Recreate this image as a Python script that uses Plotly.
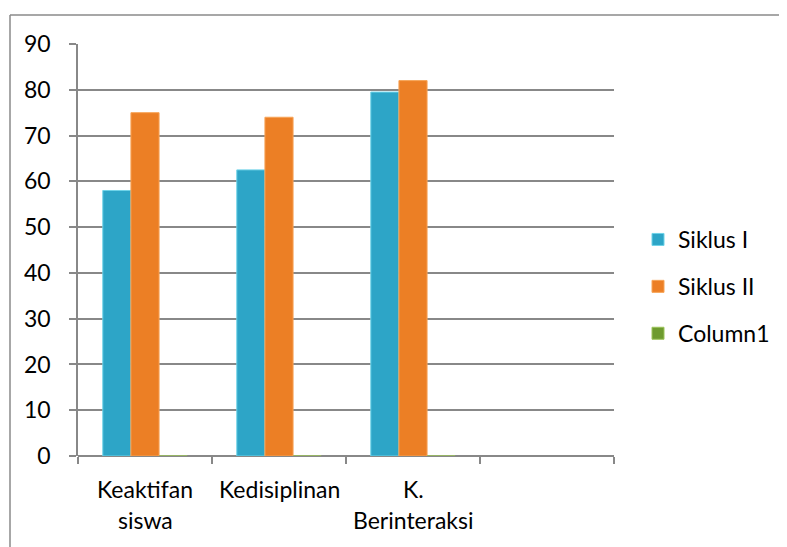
import plotly.graph_objects as go

categories = ["Keaktifan siswa", "Kedisiplinan", "K. Berinteraksi", ""]
label_lines = [["Keaktifan", "siswa"], ["Kedisiplinan", ""], ["K.", "Berinteraksi"], ["", ""]]
siklus1 = [58, 62.5, 79.5, None]
siklus2 = [75, 74, 82, None]
column1 = [0, 0, 0, None]
series_names = ["Siklus I", "Siklus II", "Column1"]
y_ticks = [0, 10, 20, 30, 40, 50, 60, 70, 80, 90]

cat_ids = ["c%d" % i for i in range(len(categories))]
FONT = "Lato"
FS = 23
colors = ["#2da5c7", "#ec7f25", "#6e9b2f"]
line_colors = ["#6fd3e8", "#f7a457", "#9cc45a"]

fig = go.Figure()
for name, vals, c, lc in zip(series_names, [siklus1, siklus2, column1], colors, line_colors):
    fig.add_trace(go.Bar(x=cat_ids, y=vals, name=name, legendgroup=name,
                         marker=dict(color=c, line=dict(color=lc, width=1))))

OFF = 8  # page body margin
W, H = 787 - OFF, 547 - OFF
L, R, T, B = 78 - OFF, 614 - OFF, 44 - OFF, 456 - OFF
pw, ph = R - L, B - T

def px_x(px):
    return (px - OFF - L) / pw

def px_y(py):
    return (B - (py - OFF)) / ph

annotations = []
for cid, lines in zip(cat_ids, label_lines):
    for k, txt in enumerate(lines):
        if txt:
            annotations.append(dict(x=cid, xref="x", y=px_y(489 + 31 * k), yref="paper",
                                    text=txt, showarrow=False, xanchor="center", yanchor="middle",
                                    font=dict(family=FONT, size=FS, color="#000000")))

shapes = [
    dict(type="line", xref="paper", yref="paper", x0=px_x(10), x1=px_x(10), y0=px_y(15), y1=px_y(560),
         line=dict(color="#8a8a8a", width=1.5)),
    dict(type="line", xref="paper", yref="paper", x0=px_x(10), x1=px_x(800), y0=px_y(15), y1=px_y(15),
         line=dict(color="#8a8a8a", width=1.5)),
]

fig.update_layout(
    width=W, height=H,
    margin=dict(l=L, r=W - R, t=T, b=H - B, autoexpand=False),
    paper_bgcolor="white", plot_bgcolor="white",
    barmode="group", bargap=0.37, bargroupgap=0,
    font=dict(family=FONT, size=FS, color="#000000"),
    showlegend=True,
    legend=dict(x=px_x(638), y=px_y(218), xanchor="left", yanchor="top",
                traceorder="grouped", tracegroupgap=14, itemwidth=30,
                font=dict(family=FONT, size=FS, color="#000000"),
                bgcolor="rgba(0,0,0,0)"),
    annotations=annotations,
    shapes=shapes,
)
fig.update_xaxes(type="category", categoryorder="array", categoryarray=cat_ids,
                 range=[-0.5, len(cat_ids) - 0.5],
                 tickmode="array", tickvals=cat_ids, ticktext=[""] * len(cat_ids),
                 tickson="boundaries", ticks="outside", ticklen=7, tickcolor="#888888", tickwidth=1.5,
                 showline=False, showgrid=False, zeroline=False)
fig.update_yaxes(range=[0, 90], tickmode="array", tickvals=y_ticks,
                 ticks="outside", ticklen=7, tickcolor="#888888", tickwidth=1.5,
                 showline=True, linecolor="#888888", linewidth=1.5,
                 showgrid=True, gridcolor="#888888", gridwidth=1.5,
                 zeroline=True, zerolinecolor="#888888", zerolinewidth=1.5,
                 ticklabelstandoff=14, tickfont=dict(family=FONT, size=FS))

fig.write_html("out.html")
